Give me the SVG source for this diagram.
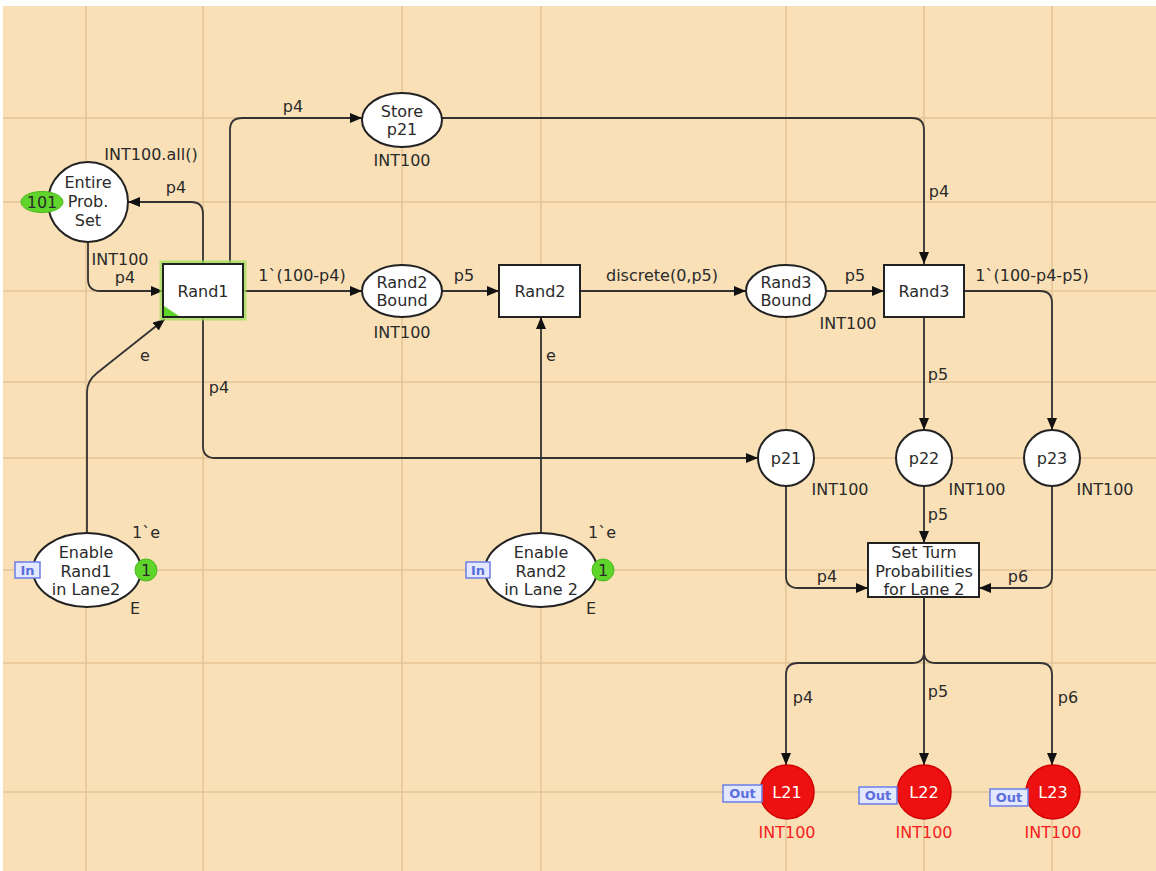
<svg xmlns="http://www.w3.org/2000/svg" width="1156" height="871" viewBox="0 0 1156 871">
<defs>
<marker id="arr" markerUnits="userSpaceOnUse" markerWidth="13" markerHeight="11" refX="12" refY="5" orient="auto">
<path d="M0,0 L12,5 L0,10 z" fill="#111"/>
</marker>
<style>
text{font-family:"DejaVu Sans","Liberation Sans",sans-serif;font-size:16px;fill:#2a2a2a;text-anchor:middle}
.grid line{stroke:#e3c594;stroke-width:1.5}
.arc{fill:none;stroke:#333;stroke-width:1.8;marker-end:url(#arr)}
.place{fill:#fff;stroke:#222;stroke-width:2}
.trans{fill:#fff;stroke:#222;stroke-width:2}
.tok{fill:#5fd42a;stroke:#4cb81f;stroke-width:1}
.tag{fill:#e4e8ff;stroke:#6a7de6;stroke-width:1.5}
.tagt{font-size:13px;font-weight:bold;fill:#5b6fdc}
.red{fill:#ee1111;stroke:#d00000;stroke-width:1.5}
.redt{fill:#f52020}
.wt{fill:#fff}
</style>
</defs>
<rect x="0" y="0" width="1156" height="871" fill="#fff"/>
<rect x="3" y="6" width="1153" height="865" fill="#f9e0b7"/>
<g class="grid">
<line x1="86" y1="6" x2="86" y2="871"/>
<line x1="203" y1="6" x2="203" y2="871"/>
<line x1="402" y1="6" x2="402" y2="871"/>
<line x1="541" y1="6" x2="541" y2="871"/>
<line x1="786" y1="6" x2="786" y2="871"/>
<line x1="924" y1="6" x2="924" y2="871"/>
<line x1="1052" y1="6" x2="1052" y2="871"/>
<line x1="3" y1="118" x2="1156" y2="118"/>
<line x1="3" y1="202" x2="1156" y2="202"/>
<line x1="3" y1="291" x2="1156" y2="291"/>
<line x1="3" y1="382" x2="1156" y2="382"/>
<line x1="3" y1="458" x2="1156" y2="458"/>
<line x1="3" y1="570" x2="1156" y2="570"/>
<line x1="3" y1="663" x2="1156" y2="663"/>
<line x1="3" y1="792" x2="1156" y2="792"/>
</g>
<g id="connectors">
<path class="arc" d="M88,242 V279 Q88,291 100,291 H163"/>
<path class="arc" d="M203,264 V214 Q203,202 191,202 H128"/>
<path class="arc" d="M230,264 V130 Q230,118 242,118 H362"/>
<path class="arc" d="M442,118 H912 Q924,118 924,130 V264"/>
<path class="arc" d="M243,291 H362"/>
<path class="arc" d="M442,291 H499"/>
<path class="arc" d="M580,291 H746"/>
<path class="arc" d="M826,291 H884"/>
<path class="arc" d="M964,291 H1040 Q1052,291 1052,303 V430"/>
<path class="arc" d="M924,317 V430"/>
<path class="arc" d="M203,317 V446 Q203,458 215,458 H758"/>
<path class="arc" d="M87,533 V392 Q87,381 97,373 L165,319"/>
<path class="arc" d="M541,533 V317"/>
<path class="arc" d="M786,486 V576 Q786,588 798,588 H868"/>
<path class="arc" d="M924,486 V543"/>
<path class="arc" d="M1052,486 V576 Q1052,588 1040,588 H979"/>
<path class="arc" d="M924,597 V652 Q924,663 912,663 H798 Q786,663 786,675 V765"/>
<path class="arc" d="M924,597 V765"/>
<path class="arc" d="M924,652 Q924,663 936,663 H1040 Q1052,663 1052,675 V765"/>
<text x="151" y="160">INT100.all()</text>
<text x="176" y="193">p4</text>
<text x="120" y="265">INT100</text>
<text x="125" y="283">p4</text>
<text x="293" y="112">p4</text>
<text x="939" y="197">p4</text>
<text x="302" y="281">1`(100-p4)</text>
<text x="464" y="281">p5</text>
<text x="662" y="281">discrete(0,p5)</text>
<text x="855" y="281">p5</text>
<text x="1032" y="281">1`(100-p4-p5)</text>
<text x="938" y="380">p5</text>
<text x="219" y="393">p4</text>
<text x="145" y="361">e</text>
<text x="551" y="361">e</text>
<text x="938" y="520">p5</text>
<text x="827" y="582">p4</text>
<text x="1018" y="582">p6</text>
<text x="803" y="703">p4</text>
<text x="938" y="697">p5</text>
<text x="1068" y="703">p6</text>
</g>
<g id="entire">
<circle class="place" cx="88" cy="202" r="40"/>
<text x="88" y="188">Entire</text>
<text x="88" y="207">Prob.</text>
<text x="88" y="226">Set</text>
<ellipse class="tok" cx="42" cy="202" rx="21" ry="10.5"/>
<text x="42" y="208">101</text>
</g>
<g id="rand1">
<rect x="163" y="264" width="80" height="53" fill="none" stroke="#9be05a" stroke-width="7" opacity="0.75"/>
<rect class="trans" x="163" y="264" width="80" height="53"/>
<path d="M164,306 L164,316 L179,316 z" fill="#5fd42a"/>
<text x="203" y="297">Rand1</text>
</g>
<g id="store">
<ellipse class="place" cx="402" cy="120" rx="40" ry="27"/>
<text x="402" y="117">Store</text>
<text x="402" y="135">p21</text>
<text x="402" y="166">INT100</text>
</g>
<g id="rand2bound">
<ellipse class="place" cx="402" cy="291" rx="40" ry="26"/>
<text x="402" y="288">Rand2</text>
<text x="402" y="306">Bound</text>
<text x="402" y="338">INT100</text>
</g>
<g id="rand2">
<rect class="trans" x="499" y="265" width="81" height="52"/>
<text x="540" y="297">Rand2</text>
</g>
<g id="rand3bound">
<ellipse class="place" cx="786" cy="291" rx="40" ry="26"/>
<text x="786" y="288">Rand3</text>
<text x="786" y="306">Bound</text>
<text x="848" y="329">INT100</text>
</g>
<g id="rand3">
<rect class="trans" x="884" y="265" width="80" height="52"/>
<text x="924" y="297">Rand3</text>
</g>
<g id="p21">
<circle class="place" cx="786" cy="458" r="28"/>
<text x="786" y="464">p21</text>
<text x="840" y="495">INT100</text>
</g>
<g id="p22">
<circle class="place" cx="924" cy="458" r="28"/>
<text x="924" y="464">p22</text>
<text x="977" y="495">INT100</text>
</g>
<g id="p23">
<circle class="place" cx="1052" cy="458" r="28"/>
<text x="1052" y="464">p23</text>
<text x="1105" y="495">INT100</text>
</g>
<g id="enable1">
<ellipse class="place" cx="87" cy="570" rx="54" ry="37"/>
<text x="86" y="558">Enable</text>
<text x="86" y="577">Rand1</text>
<text x="86" y="595">in Lane2</text>
<rect class="tag" x="15" y="562" width="25" height="16"/>
<text class="tagt" x="27.5" y="575">In</text>
<circle class="tok" cx="146" cy="570" r="11"/>
<text x="146" y="576">1</text>
<text x="146" y="538">1`e</text>
<text x="135" y="614">E</text>
</g>
<g id="enable2">
<ellipse class="place" cx="541" cy="570" rx="56" ry="37"/>
<text x="541" y="558">Enable</text>
<text x="541" y="577">Rand2</text>
<text x="541" y="595">in Lane 2</text>
<rect class="tag" x="466" y="562" width="24" height="16"/>
<text class="tagt" x="478" y="575">In</text>
<circle class="tok" cx="603" cy="570" r="11"/>
<text x="603" y="576">1</text>
<text x="602" y="538">1`e</text>
<text x="591" y="614">E</text>
</g>
<g id="setturn">
<rect class="trans" x="868" y="543" width="111" height="54"/>
<text x="924" y="558">Set Turn</text>
<text x="924" y="577">Probabilities</text>
<text x="924" y="595">for Lane 2</text>
</g>
<g id="l21">
<circle class="red" cx="787" cy="792" r="27"/>
<text class="wt" x="787" y="798">L21</text>
<rect class="tag" x="723" y="785" width="39" height="17"/>
<text class="tagt" x="742.5" y="798">Out</text>
<text class="redt" x="787" y="838">INT100</text>
</g>
<g id="l22">
<circle class="red" cx="924" cy="792" r="27"/>
<text class="wt" x="924" y="798">L22</text>
<rect class="tag" x="859" y="787" width="38" height="17"/>
<text class="tagt" x="878" y="800">Out</text>
<text class="redt" x="924" y="838">INT100</text>
</g>
<g id="l23">
<circle class="red" cx="1053" cy="792" r="27"/>
<text class="wt" x="1053" y="798">L23</text>
<rect class="tag" x="990" y="789" width="38" height="17"/>
<text class="tagt" x="1009" y="802">Out</text>
<text class="redt" x="1053" y="838">INT100</text>
</g>
</svg>
